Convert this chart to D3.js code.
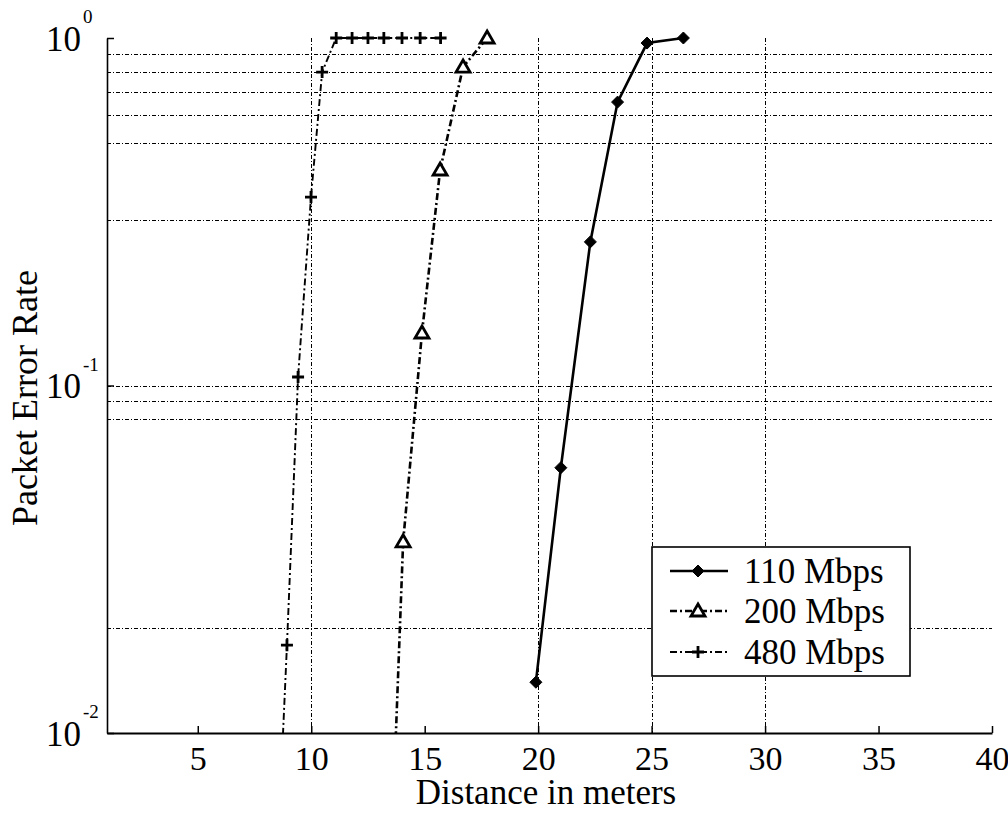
<!DOCTYPE html>
<html>
<head>
<meta charset="utf-8">
<script src="https://cdn.jsdelivr.net/npm/d3@7"></script>
<style>
  html, body { margin: 0; padding: 0; background: #fff; }
  svg { display: block; }
  text { font-family: "Liberation Serif", "Times New Roman", serif; fill: #000; }
</style>
</head>
<body>
<svg id="chart" width="1008" height="815"></svg>
<script>
// ---- data ----
const series110x = [19.9, 21.0, 22.3, 23.5, 24.8, 26.4];
const series110y = [0.014, 0.058, 0.259, 0.654, 0.967, 1.0];

const series200x = [13.2, 14.05, 14.88, 15.68, 16.69, 17.75];
const series200y = [0.0012, 0.0355, 0.1416, 0.417, 0.825, 1.0];

const series480x = [8.4, 8.93, 9.42, 9.99, 10.48, 11.1, 11.8, 12.5, 13.2, 14.0, 14.8, 15.7];
const series480y = [0.003, 0.0179, 0.1058, 0.3486, 0.798, 1.0, 1.0, 1.0, 1.0, 1.0, 1.0, 1.0];

const seriesNames = ["110 Mbps", "200 Mbps", "480 Mbps"];
const xTickValues = [5, 10, 15, 20, 25, 30, 35, 40];
const yTickExponents = [-2, -1, 0];
const xGridValues = [10, 20, 25, 30];
const yGridValues = [0.9, 0.8, 0.7, 0.6, 0.5, 0.3, 0.1, 0.09, 0.08, 0.02];
const xLabel = "Distance in meters";
const yLabel = "Packet Error Rate";

// ---- layout ----
const L = 107, R = 992, T = 38, B = 733;
const svg = d3.select("#chart");
const x = d3.scaleLinear().domain([1, 40]).range([L, R]);
const y = d3.scaleLog().domain([0.01, 1]).range([B, T]);

svg.append("defs").append("clipPath").attr("id", "clip")
  .append("rect").attr("x", L).attr("y", 0).attr("width", R - L + 20).attr("height", B);

// gridlines
const gridDash = "4,2,1,2";
svg.append("g").attr("shape-rendering", "crispEdges").selectAll("line").data(yGridValues).join("line")
  .attr("x1", L).attr("x2", R)
  .attr("y1", d => Math.round(y(d)) + 0.5).attr("y2", d => Math.round(y(d)) + 0.5)
  .attr("stroke", "#000").attr("stroke-width", 1).attr("stroke-dasharray", gridDash);
svg.append("g").attr("shape-rendering", "crispEdges").selectAll("line").data(xGridValues).join("line")
  .attr("x1", d => Math.round(x(d)) + 0.5).attr("x2", d => Math.round(x(d)) + 0.5)
  .attr("y1", T).attr("y2", B)
  .attr("stroke", "#000").attr("stroke-width", 1).attr("stroke-dasharray", gridDash);

// axes
const xAxis = d3.axisBottom(x).tickValues(xTickValues).tickSizeInner(-7).tickSizeOuter(0)
  .tickPadding(13).tickFormat(d3.format("d"));
const gx = svg.append("g").attr("transform", `translate(0,${B})`).call(xAxis);
gx.select(".domain").attr("stroke-width", 2);
gx.selectAll(".tick line").attr("stroke-width", 1.5);
gx.selectAll(".tick text").style("font-family", "Liberation Serif, serif").style("font-size", "34px");

const yAxis = d3.axisLeft(y).tickValues(yTickExponents.map(e => Math.pow(10, e)))
  .tickSizeInner(-7).tickSizeOuter(0).tickFormat(() => "");
const gy = svg.append("g").attr("transform", `translate(${L},0)`).call(yAxis);
gy.select(".domain").attr("stroke-width", 1.6);
gy.selectAll(".tick line").attr("stroke-width", 1.5);

// y tick labels as 10^e
const yl = svg.append("g");
yTickExponents.forEach(e => {
  const ty = y(Math.pow(10, e));
  yl.append("text").attr("x", 81).attr("y", ty + 12.5).attr("text-anchor", "end")
    .style("font-size", "35px").text("10");
  yl.append("text").attr("x", 83).attr("y", ty - 15).attr("text-anchor", "start")
    .style("font-size", "19px").text(String(e));
});

// axis titles
svg.append("text").attr("x", 546).attr("y", 804).attr("text-anchor", "middle")
  .style("font-size", "35px").text(xLabel);
svg.append("text").attr("transform", `translate(37,398) rotate(-90)`).attr("text-anchor", "middle")
  .style("font-size", "36px").text(yLabel);

// series
const styles = [
  { xs: series110x, ys: series110y, width: 2.6, dash: null, marker: "diamond" },
  { xs: series200x, ys: series200y, width: 2.6, dash: "7,3,2,3", marker: "triangle" },
  { xs: series480x, ys: series480y, width: 1.9, dash: "7,3,2,3", marker: "plus" }
];
const line = d3.line().x(d => x(d[0])).y(d => y(d[1]));

function drawMarker(g, type, cx, cy) {
  if (type === "diamond") {
    g.append("path").attr("d", `M${cx},${cy - 6}L${cx + 6},${cy}L${cx},${cy + 6}L${cx - 6},${cy}Z`)
      .attr("fill", "#000").attr("stroke", "#000").attr("stroke-width", 1);
  } else if (type === "triangle") {
    g.append("path").attr("d", `M${cx},${cy - 7}L${cx + 7},${cy + 5}L${cx - 7},${cy + 5}Z`)
      .attr("fill", "#fff").attr("stroke", "#000").attr("stroke-width", 2.8).attr("stroke-linejoin", "miter");
  } else {
    g.append("path").attr("d", `M${cx - 6},${cy}L${cx + 6},${cy}M${cx},${cy - 6}L${cx},${cy + 6}`)
      .attr("stroke", "#000").attr("stroke-width", 2.8);
  }
}

styles.forEach(s => {
  const pts = s.xs.map((v, i) => [v, s.ys[i]]);
  svg.append("path").datum(pts).attr("clip-path", "url(#clip)")
    .attr("d", line).attr("fill", "none").attr("stroke", "#000")
    .attr("stroke-width", s.width).attr("stroke-dasharray", s.dash);
  const mg = svg.append("g");
  pts.filter(p => p[1] >= 0.01).forEach(p => drawMarker(mg, s.marker, x(p[0]), y(p[1])));
});

// legend
const lg = svg.append("g");
lg.append("rect").attr("x", 652).attr("y", 547).attr("width", 258).attr("height", 129)
  .attr("fill", "#fff").attr("stroke", "#000").attr("stroke-width", 1.6);
const rowY = [571, 611, 652];
styles.forEach((s, i) => {
  lg.append("line").attr("x1", 670).attr("x2", 728).attr("y1", rowY[i]).attr("y2", rowY[i])
    .attr("stroke", "#000").attr("stroke-width", s.width).attr("stroke-dasharray", s.dash);
  drawMarker(lg, s.marker, 698, rowY[i]);
  lg.append("text").attr("x", 744).attr("y", rowY[i] + 12).style("font-size", "35px").text(seriesNames[i]);
});
</script>
</body>
</html>
